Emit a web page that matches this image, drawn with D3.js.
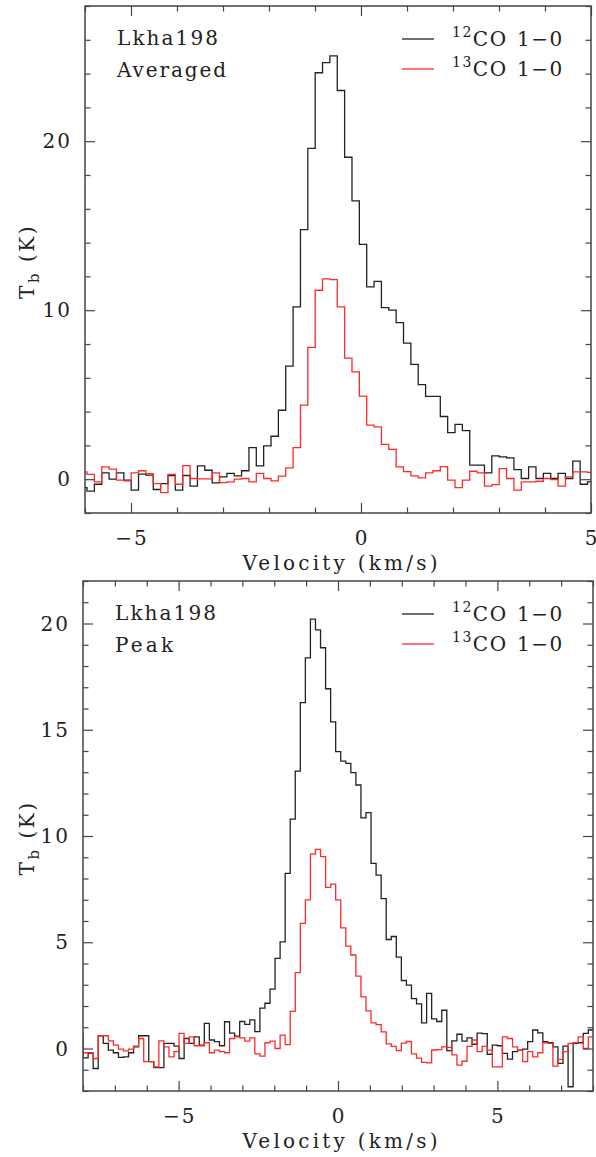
<!DOCTYPE html>
<html>
<head>
<meta charset="utf-8">
<script src="https://cdn.jsdelivr.net/npm/d3@7"></script>
<style>
  body { margin: 0; background: #fff; }
  text { font-family: "DejaVu Serif", serif; fill: #222; }
</style>
</head>
<body>
<div id="chart"></div>
<script>
var svgWidth = 596;
var svgHeight = 1157;

// ---- data (T_b in K, one value per channel) ----
// averaged spectrum: channel centres start at -6.036 km/s, 0.16 km/s wide
var avgVelStart = -6.036;
var avgChanWidth = 0.16;
var avgCO12 = [-0.5, -0.7, -0.3, 0.37, 0.0, 0.37, -0.06, -0.65, 0.3, 0.24,
  -0.61, -0.26, 0.22, -0.65, 0.22, -0.41, 0.79, 0.53, -0.22, 0.14,
  0.35, 0.2, 0.5, 1.87, 0.79, 1.97, 2.54, 4.08, 6.69, 10.2,
  14.77, 19.57, 24.05, 24.65, 25.05, 23.0, 19.05, 16.47, 13.9, 11.38,
  11.7, 10.15, 10.0, 9.27, 8.05, 6.8, 5.6, 4.9, 4.9, 3.71,
  2.76, 3.25, 2.88, 0.83, 0.83, 0.37, 1.38, 1.32, 1.26, 0.57,
  0.04, 0.73, 0.04, 0.34, 0.04, 0.34, 0.04, 1.07, -0.3, -0.16];
var avgCO13 = [0.43, 0.28, -0.16, 0.73, 0.6, -0.06, -0.1, 0.37, 0.5, 0.33,
  -0.26, -0.8, 0.28, -0.3, 0.8, 0.04, 0.02, 0.02, 0.37, -0.2,
  -0.16, 0.0, 0.04, -0.16, 0.34, 0.04, -0.1, 0.18, 0.67, 1.87,
  4.38, 7.8, 11.18, 11.85, 11.81, 10.2, 7.16, 6.35, 4.92, 3.2,
  3.1, 2.06, 1.76, 0.73, 0.45, 0.2, 0.08, 0.37, 0.5, 0.75,
  -0.06, -0.5, -0.06, 0.47, 0.37, -0.41, -0.32, 0.63, 0.04, -0.65,
  -0.16, -0.16, -0.12, 0.04, -0.02, -0.41, 0.14, 0.43, 0.43, 0.4];

// peak spectrum: channel centres start at -8.077 km/s, 0.1585 km/s wide
var peakVelStart = -8.077;
var peakChanWidth = 0.1585;
var peakCO12 = [0.55, -0.44, -0.23, -0.94, 0.6, 0.24, -0.08, -0.2, -0.42, -0.39,
  -0.2, 0.08, 0.6, 0.6, -0.62, -0.9, -0.9, 0.24, 0.24, 0.11,
  -0.47, 0.47, 0.24, 0.55, 0.16, 1.18, 0.4, 0.32, 0.13, 1.26,
  0.72, 0.58, 1.27, 1.14, 1.35, 0.79, 1.9, 2.13, 2.79, 4.24,
  5.02, 8.24, 10.79, 13.05, 16.28, 18.38, 20.21, 19.7, 18.86, 16.93,
  15.37, 13.97, 13.52, 13.42, 12.98, 12.4, 10.85, 11.1, 8.71, 8.16,
  7.05, 5.13, 5.27, 4.3, 3.2, 2.98, 2.35, 2.1, 1.21, 2.59,
  1.39, 1.27, 1.8, -0.1, 0.36, 0.67, 0.35, 0.5, 0.2, 0.72,
  0.7, -0.27, 0.16, 0.13, -0.23, -0.5, -0.15, -0.08, -0.03, 0.32,
  0.87, 0.74, 0.32, 0.27, 0.08, -0.7, 0.11, -1.8, 0.24, 0.27,
  0.71, 0.87];
var peakCO13 = [0.74, -0.2, -0.2, -0.47, 0.6, 0.6, 0.36, 0.16, -0.03, -0.11,
  -0.03, 0.11, 0.47, -0.62, -0.62, -0.86, 0.36, 0.08, -0.39, -0.15,
  0.71, 0.24, 0.55, 0.13, 0.13, 0.27, -0.2, -0.08, -0.15, -0.2,
  0.47, 0.55, 0.5, 0.35, 0.5, -0.25, -0.36, 0.27, 0.35, 0.0,
  0.63, 0.18, 1.75, 3.57, 5.89, 6.99, 9.15, 9.37, 9.03, 7.58,
  7.74, 6.99, 5.68, 4.82, 4.4, 3.41, 2.43, 1.77, 1.21, 1.12,
  0.78, 0.22, 0.1, -0.1, 0.25, 0.33, -0.25, -0.45, -0.65, -0.68,
  -0.07, -0.05, 0.08, 0.05, -0.3, -0.78, -0.6, 0.1, 0.4, -0.15,
  0.1, -0.08, -0.86, -0.86, 0.55, 0.47, 0.08, -0.08, -0.62, -0.15,
  -0.39, -0.2, 0.27, 0.24, -0.83, -0.51, -0.15, 0.24, 0.27, 0.55,
  0.0, 0.55];

// tick labels
var avgXTicks = [-5, 0, 5];
var avgYTicks = [0, 10, 20];
var peakXTicks = [-5, 0, 5];
var peakYTicks = [0, 5, 10, 15, 20];

var sourceName = "Lkha198";
var lineNames = ["12", "13"];
var lineColors = ["#222", "#ff2a2a"];

var svg = d3.select("#chart")
  .append("svg")
  .attr("width", svgWidth)
  .attr("height", svgHeight);

svg.append("rect").attr("width", svgWidth).attr("height", svgHeight).attr("fill", "#fff");

// build [{v, t}] channel list
function channels(start, width, values) {
  return values.map(function(t, i) { return { v: start + i * width, t: t }; });
}

// histogram-style path through the scales
function stepPath(data, width, x, y) {
  var p = "";
  data.forEach(function(d, i) {
    var x0 = x(d.v - width / 2), x1 = x(d.v + width / 2);
    if (i === 0) p += "M" + x0 + "," + y(d.t);
    else p += "V" + y(d.t);
    p += "H" + x1;
  });
  return p;
}

function drawPanel(cfg, idx) {
  var x = d3.scaleLinear().domain(cfg.xDom).range([cfg.left, cfg.right]);
  var y = d3.scaleLinear().domain(cfg.yDom).range([cfg.bottom, cfg.top]);
  var g = svg.append("g");

  var clipId = "clip" + idx;
  svg.append("clipPath").attr("id", clipId)
    .append("rect")
    .attr("x", cfg.left).attr("y", cfg.top)
    .attr("width", cfg.right - cfg.left).attr("height", cfg.bottom - cfg.top);

  // spectra
  var series = [cfg.co12, cfg.co13];
  series.forEach(function(vals, s) {
    g.append("path")
      .attr("clip-path", "url(#" + clipId + ")")
      .attr("d", stepPath(channels(cfg.vStart, cfg.dv, vals), cfg.dv, x, y))
      .attr("fill", "none")
      .attr("stroke", lineColors[s])
      .attr("stroke-width", 1.3);
  });

  // inward ticks on all four sides
  var xMinor = d3.range(Math.ceil(cfg.xDom[0]), cfg.xDom[1] + 0.001, 1);
  var yMinor = d3.range(Math.ceil(cfg.yDom[0] / cfg.yMinorStep) * cfg.yMinorStep, cfg.yDom[1] + 0.001, cfg.yMinorStep);
  var tickColor = "#444";

  function ticks(axisFn, scale, vals, size, transform) {
    var a = g.append("g")
      .attr("transform", transform)
      .call(axisFn(scale).tickValues(vals).tickSize(-size).tickFormat(""));
    a.select(".domain").remove();
    a.selectAll("line").attr("stroke", tickColor).attr("stroke-width", 1.2);
  }
  var minorX = xMinor.filter(function(v) { return cfg.xTicks.indexOf(v) < 0; });
  var minorY = yMinor.filter(function(v) { return cfg.yTicks.indexOf(v) < 0; });
  ticks(d3.axisBottom, x, minorX, 5.5, "translate(0," + cfg.bottom + ")");
  ticks(d3.axisBottom, x, cfg.xTicks, 10, "translate(0," + cfg.bottom + ")");
  ticks(d3.axisTop, x, minorX, 5.5, "translate(0," + cfg.top + ")");
  ticks(d3.axisTop, x, cfg.xTicks, 10, "translate(0," + cfg.top + ")");
  ticks(d3.axisLeft, y, minorY, 5.5, "translate(" + cfg.left + ",0)");
  ticks(d3.axisLeft, y, cfg.yTicks, 10, "translate(" + cfg.left + ",0)");
  ticks(d3.axisRight, y, minorY, 5.5, "translate(" + cfg.right + ",0)");
  ticks(d3.axisRight, y, cfg.yTicks, 10, "translate(" + cfg.right + ",0)");

  // frame
  g.append("rect")
    .attr("x", cfg.left).attr("y", cfg.top)
    .attr("width", cfg.right - cfg.left).attr("height", cfg.bottom - cfg.top)
    .attr("fill", "none").attr("stroke", tickColor).attr("stroke-width", 1.5);

  // tick labels
  g.selectAll(".xlab").data(cfg.xTicks).enter().append("text")
    .attr("x", function(d) { return x(d) + 1; })
    .attr("y", cfg.bottom + 32)
    .attr("text-anchor", "middle")
    .attr("font-size", 20)
    .attr("letter-spacing", 2)
    .text(function(d) { return d < 0 ? "\u2212" + Math.abs(d) : d; });
  g.selectAll(".ylab").data(cfg.yTicks).enter().append("text")
    .attr("x", cfg.left - 13)
    .attr("y", function(d) { return y(d) + 7; })
    .attr("text-anchor", "end")
    .attr("font-size", 20)
    .attr("letter-spacing", 2)
    .text(function(d) { return d; });

  // axis titles
  g.append("text")
    .attr("x", (cfg.left + cfg.right) / 2 + 2)
    .attr("y", cfg.bottom + 57)
    .attr("text-anchor", "middle")
    .attr("font-size", 20)
    .attr("textLength", 195)
    .attr("lengthAdjust", "spacing")
    .text("Velocity (km/s)");

  var yt = g.append("text")
    .attr("transform", "translate(34," + ((cfg.top + cfg.bottom) / 2 + 2) + ") rotate(-90)")
    .attr("text-anchor", "middle")
    .attr("font-size", 20)
    .attr("letter-spacing", 2.5);
  yt.append("tspan").text("T");
  yt.append("tspan").attr("font-size", 15).attr("dy", 5).text("b");
  yt.append("tspan").attr("dy", -5).text(" (K)");

  // source / spectrum labels
  g.append("text").attr("x", cfg.left + 32).attr("y", cfg.top + 39)
    .attr("font-size", 20)
    .attr("textLength", 101).attr("lengthAdjust", "spacing")
    .text(sourceName);
  g.append("text").attr("x", cfg.left + 32).attr("y", cfg.top + 71)
    .attr("font-size", 20)
    .attr("textLength", cfg.labelWidth).attr("lengthAdjust", "spacing")
    .text(cfg.label);

  // legend
  lineNames.forEach(function(iso, s) {
    var ly = cfg.top + 33 + s * 30;
    g.append("line")
      .attr("x1", 402).attr("x2", 434)
      .attr("y1", ly).attr("y2", ly)
      .attr("stroke", lineColors[s]).attr("stroke-width", 1.3);
    var t = g.append("text").attr("x", 452).attr("y", ly + 6.5).attr("font-size", 20)
      .attr("letter-spacing", 1.5);
    t.append("tspan").attr("font-size", 14).attr("dy", -9).text(iso);
    t.append("tspan").attr("dy", 9).text("CO");
    t.append("tspan").attr("x", 517).text("1\u22120");
  });
}

drawPanel({
  left: 85, right: 591, top: 6, bottom: 513,
  xDom: [-6, 5], yDom: [-2, 28], yMinorStep: 2,
  xTicks: avgXTicks, yTicks: avgYTicks,
  vStart: avgVelStart, dv: avgChanWidth,
  co12: avgCO12, co13: avgCO13, label: "Averaged", labelWidth: 109
}, 0);

drawPanel({
  left: 83, right: 593, top: 581, bottom: 1091,
  xDom: [-8, 8], yDom: [-2, 22], yMinorStep: 1,
  xTicks: peakXTicks, yTicks: peakYTicks,
  vStart: peakVelStart, dv: peakChanWidth,
  co12: peakCO12, co13: peakCO13, label: "Peak", labelWidth: 58
}, 1);
</script>
</body>
</html>
